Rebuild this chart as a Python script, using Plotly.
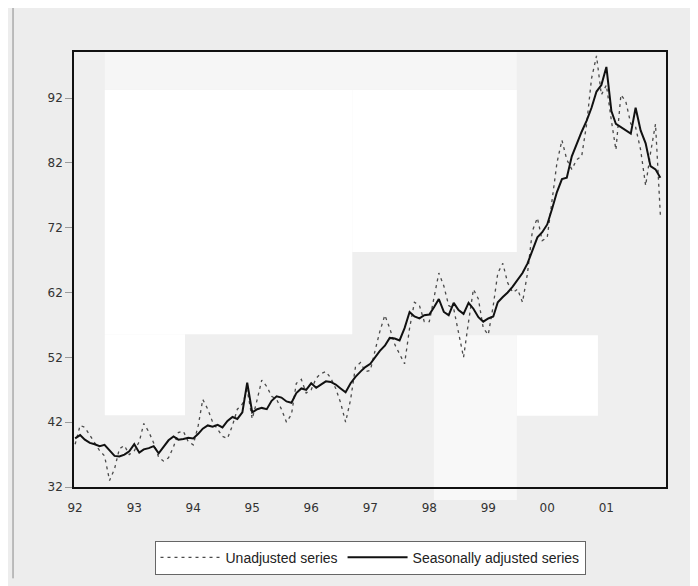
import pandas as pd
import plotly.graph_objects as go

# Monthly observations, Jan 1992 - Dec 2001
months = pd.date_range("1992-01-01", periods=120, freq="MS")

seasonally_adjusted = [
    39.5, 40.0, 39.3, 38.8, 38.6, 38.3, 38.5, 37.6, 36.8, 36.7, 37.0, 37.5,   # 1992
    38.6, 37.3, 37.8, 38.0, 38.3, 37.2, 38.2, 39.2, 39.8, 39.3, 39.4, 39.6,   # 1993
    39.5, 40.2, 41.0, 41.5, 41.3, 41.6, 41.2, 42.2, 42.8, 42.5, 43.5, 48.1,   # 1994
    43.5, 44.0, 44.2, 44.0, 45.3, 46.0, 45.8, 45.2, 45.0, 46.5, 47.2, 47.0,   # 1995
    48.0, 47.3, 47.8, 48.3, 48.2, 47.8, 47.2, 46.6, 48.0, 49.0, 49.8, 50.5,   # 1996
    51.0, 52.0, 53.0, 53.8, 55.0, 54.9, 54.6, 56.5, 59.0, 58.3, 58.0, 58.5,   # 1997
    58.6, 59.8, 61.0, 59.0, 58.5, 60.4, 59.3, 58.7, 60.4, 59.5, 58.2, 57.5,   # 1998
    58.0, 58.3, 60.5, 61.3, 62.0, 62.9, 64.0, 65.0, 66.5, 68.5, 70.5, 71.3,   # 1999
    72.5, 75.0, 77.5, 79.5, 79.7, 83.0, 85.0, 86.8, 88.5, 90.5, 93.0, 94.0,   # 2000
    96.8, 90.0, 88.0, 87.5, 87.0, 86.5, 90.5, 87.0, 85.0, 81.5, 81.0, 79.7,   # 2001
]

unadjusted = [
    38.6, 41.5, 41.2, 40.0, 39.0, 37.6, 36.8, 33.0, 34.8, 37.9, 38.4, 37.0,   # 1992
    37.6, 39.0, 41.8, 40.5, 38.8, 36.6, 36.0, 36.5, 38.2, 40.4, 40.6, 39.0,   # 1993
    38.5, 41.5, 45.5, 44.0, 42.0, 40.8, 39.8, 39.5, 41.5, 44.0, 44.8, 47.0,   # 1994
    42.5, 45.5, 48.5, 47.5, 46.0, 45.5, 44.0, 42.0, 43.2, 48.0, 48.6, 46.5,   # 1995
    47.0, 48.8, 49.5, 49.8, 48.8, 47.2, 45.0, 42.0, 45.5, 50.5, 51.2, 49.8,   # 1996
    50.0, 53.2, 56.0, 58.5, 56.5, 54.0, 52.5, 51.0, 56.5, 60.5, 60.0, 57.5,   # 1997
    57.5, 61.5, 65.0, 63.0, 60.0, 59.5, 56.0, 52.0, 57.5, 62.5, 61.0, 56.5,   # 1998
    55.5, 60.0, 65.0, 66.5, 63.5, 62.0, 62.5, 60.5, 65.0, 71.5, 73.5, 70.0,   # 1999
    70.5, 76.5, 82.0, 85.5, 82.5, 81.0, 82.5, 83.0, 88.0, 95.0, 98.5, 92.5,   # 2000
    94.0, 88.5, 84.0, 92.5, 91.5, 88.0, 87.5, 84.0, 78.5, 83.5, 88.0, 74.0,   # 2001
]

year_ticks = ["1992-01-01", "1993-01-01", "1994-01-01", "1995-01-01", "1996-01-01",
              "1997-01-01", "1998-01-01", "1999-01-01", "2000-01-01", "2001-01-01"]
year_labels = ["92", "93", "94", "95", "96", "97", "98", "99", "00", "01"]
y_ticks = [32, 42, 52, 62, 72, 82, 92]

fig = go.Figure()
fig.add_trace(go.Scatter(
    x=months, y=unadjusted, mode="lines", name="Unadjusted series",
    line=dict(color="#4a4a4a", width=1.3, dash="3px,4px"),
))
fig.add_trace(go.Scatter(
    x=months, y=seasonally_adjusted, mode="lines", name="Seasonally adjusted series",
    line=dict(color="#111111", width=2),
))


def block(x0, x1, y0, y1, color):
    return dict(type="rect", xref="paper", yref="paper", x0=x0, x1=x1, y0=y0, y1=y1,
                fillcolor=color, line=dict(width=0), layer="below")


tick_font = "DejaVu Sans, Verdana, sans-serif"
legend_font = "Liberation Sans, Arial, sans-serif"
fig.update_layout(
    width=690, height=578,
    margin=dict(l=66, r=32, t=44, b=98),
    paper_bgcolor="#ededed",
    plot_bgcolor="#efefef",
    font=dict(family=tick_font, size=12, color="#333333"),
    showlegend=True,
    legend=dict(
        orientation="h", x=0.5, xanchor="center", y=-0.16, yanchor="middle",
        bgcolor="#ffffff", bordercolor="#666666", borderwidth=1,
        font=dict(family=legend_font, size=14, color="#222222"),
        itemwidth=60, tracegroupgap=0,
    ),
    xaxis=dict(
        range=["1991-12-25", "2002-01-05"],
        tickmode="array", tickvals=year_ticks, ticktext=year_labels,
        showgrid=False, zeroline=False,
        showline=True, linecolor="#111111", linewidth=1.5, mirror=True,
        ticks="outside", ticklen=9, tickcolor="rgba(0,0,0,0)",
        tickfont=dict(family=tick_font, size=12, color="#333333"),
    ),
    yaxis=dict(
        range=[32, 99.1],
        tickmode="array", tickvals=y_ticks, ticktext=[str(v) for v in y_ticks],
        showgrid=False, zeroline=False,
        showline=True, linecolor="#111111", linewidth=1.5, mirror=True,
        ticks="outside", ticklen=7, tickcolor="#9a9a9a",
        tickfont=dict(family=tick_font, size=12, color="#333333"),
    ),
    shapes=[
        # light scan blocks behind the data
        block(0.052, 0.470, 0.351, 0.913, "#ffffff"),
        block(0.052, 0.1875, 0.165, 0.351, "#ffffff"),
        block(0.470, 0.748, 0.540, 0.913, "#ffffff"),
        block(0.748, 0.885, 0.164, 0.349, "#ffffff"),
        block(0.608, 0.748, -0.03, 0.349, "#f8f8f8"),
        block(0.052, 0.748, 0.913, 1.0, "#f6f6f6"),
        # outer frame of the scanned figure
        dict(type="line", xref="paper", yref="paper", x0=-0.103, x1=-0.103,
             y0=-0.21, y1=1.12, line=dict(color="#8a8a8a", width=1)),
        dict(type="line", xref="paper", yref="paper", x0=1.046, x1=1.046,
             y0=-0.21, y1=1.12, line=dict(color="#8a8a8a", width=1)),
    ],
)

fig.write_html("out.html")
